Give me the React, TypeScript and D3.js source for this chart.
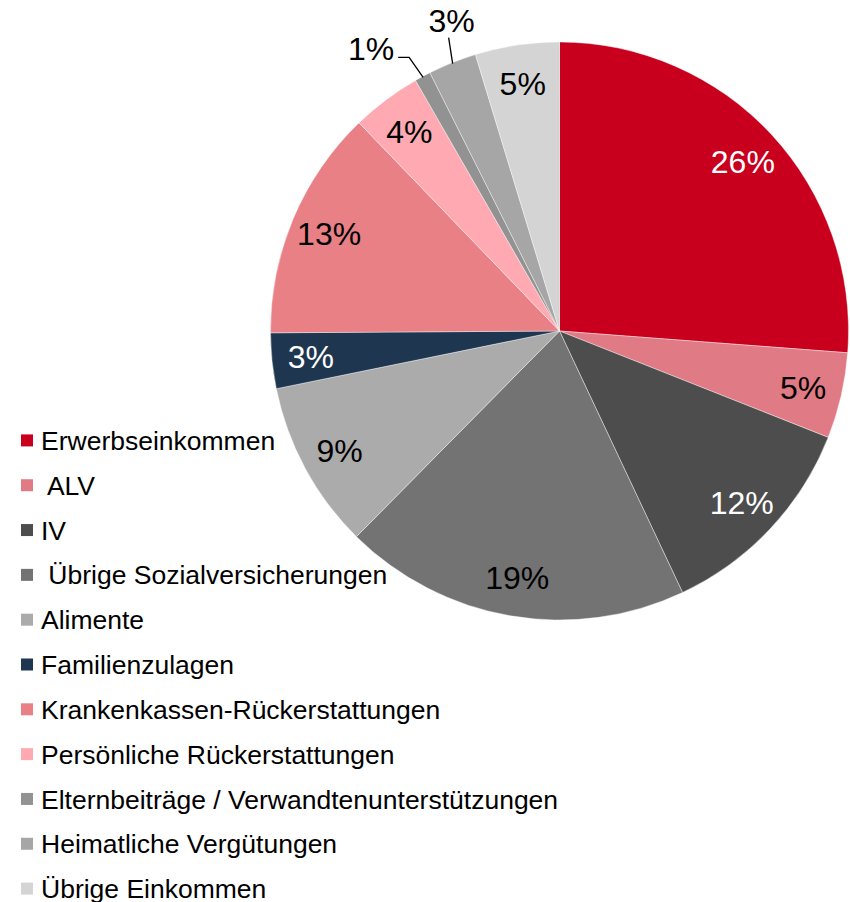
import React, { useRef, useEffect } from 'react';
import * as d3 from 'd3';

// Einkommensquellen (Anteile in %)
const categories = [
  'Erwerbseinkommen',
  ' ALV',
  'IV',
  ' Übrige Sozialversicherungen',
  'Alimente',
  'Familienzulagen',
  'Krankenkassen-Rückerstattungen',
  'Persönliche Rückerstattungen',
  'Elternbeiträge / Verwandtenunterstützungen',
  'Heimatliche Vergütungen',
  'Übrige Einkommen',
];
const values = [26.2, 4.8, 12.0, 19.4, 9.4, 3.1, 12.9, 3.9, 0.9, 2.7, 4.7];
const colors = [
  '#C8001E', '#E07A85', '#4D4D4D', '#737373', '#ABABAB', '#1F3650',
  '#E88086', '#FFAAB2', '#929292', '#A6A6A6', '#D4D4D4',
];
const labelColors = [
  '#fff', '#000', '#fff', '#000', '#000', '#fff',
  '#000', '#000', '#000', '#000', '#000',
];
// which slices get their label outside with a leader line
const outside = [false, false, false, false, false, false, false, false, true, true, false];

const W = 850;
const H = 902;

const App = () => {
  const svgRef = useRef<SVGSVGElement>(null);

  useEffect(() => {
    const svg = d3.select(svgRef.current);
    svg.selectAll('*').remove();

    const cx = 559.5;
    const cy = 331;
    const R = 289;
    const font = 'Arial, "Liberation Sans", sans-serif';

    const data = values.map((v, i) => ({ v, i }));
    const pie = d3.pie<any>().value(d => d.v).sort(null);
    const arcs = pie(data);
    const arc = d3.arc<any>().innerRadius(0).outerRadius(R);
    const labelArc = d3.arc<any>().innerRadius(250).outerRadius(250);

    const g = svg.append('g').attr('transform', `translate(${cx},${cy})`);

    g.selectAll('path')
      .data(arcs)
      .join('path')
      .attr('d', arc)
      .attr('fill', d => colors[d.data.i])
      .attr('stroke', '#fff')
      .attr('stroke-width', 0.4);

    // inside labels
    g.selectAll('text.inlabel')
      .data(arcs.filter(d => !outside[d.data.i]))
      .join('text')
      .attr('class', 'inlabel')
      .attr('transform', d => `translate(${labelArc.centroid(d)})`)
      .attr('text-anchor', 'middle')
      .attr('dy', '0.36em')
      .style('font-family', font)
      .style('font-size', '32px')
      .style('fill', d => labelColors[d.data.i])
      .text(d => `${Math.round(d.data.v)}%`);

    // outside labels with leader lines
    const outArcs = arcs.filter(d => outside[d.data.i]);
    const leaderSpecs = [
      { dx: -14, dy: -20, hx: -11, tx: -4, ty: -9, anchor: 'end' },
      { dx: -4, dy: -26, hx: 0, tx: 3, ty: -17, anchor: 'middle' },
    ];
    outArcs.forEach((d, k) => {
      const s = leaderSpecs[k];
      const mid = (d.startAngle + d.endAngle) / 2;
      const x0 = Math.sin(mid) * (R - 1);
      const y0 = -Math.cos(mid) * (R - 1);
      const x1 = x0 + s.dx;
      const y1 = y0 + s.dy;
      const x2 = x1 + s.hx;
      g.append('path')
        .attr('d', `M${x0},${y0}L${x1},${y1}L${x2},${y1}`)
        .attr('fill', 'none')
        .attr('stroke', '#000')
        .attr('stroke-width', 1.3);
      g.append('text')
        .attr('x', x2 + s.tx)
        .attr('y', y1 + s.ty)
        .attr('text-anchor', s.anchor)
        .attr('dy', '0.36em')
        .style('font-family', font)
        .style('font-size', '32px')
        .style('fill', '#000')
        .text(`${Math.round(d.data.v)}%`);
    });

    // legend
    const y = d3.scaleBand<number>()
      .domain(d3.range(categories.length))
      .range([418, 911]);

    const legend = svg.append('g');
    const rows = legend.selectAll('g')
      .data(categories)
      .join('g')
      .attr('transform', (d, i) => `translate(21,${y(i)! + y.bandwidth() / 2})`);

    rows.append('rect')
      .attr('x', 0)
      .attr('y', -6)
      .attr('width', 12)
      .attr('height', 12)
      .attr('fill', (d, i) => colors[i]);

    rows.append('text')
      .attr('x', 20)
      .attr('dy', '0.36em')
      .style('font-family', font)
      .style('font-size', '26.5px')
      .style('fill', '#000')
      .style('white-space', 'pre')
      .text(d => d);
  }, []);

  return (
    <svg
      ref={svgRef}
      width={W}
      height={H}
      style={{ position: 'absolute', left: 0, top: 0, background: '#fff' }}
    />
  );
};

export default App;
